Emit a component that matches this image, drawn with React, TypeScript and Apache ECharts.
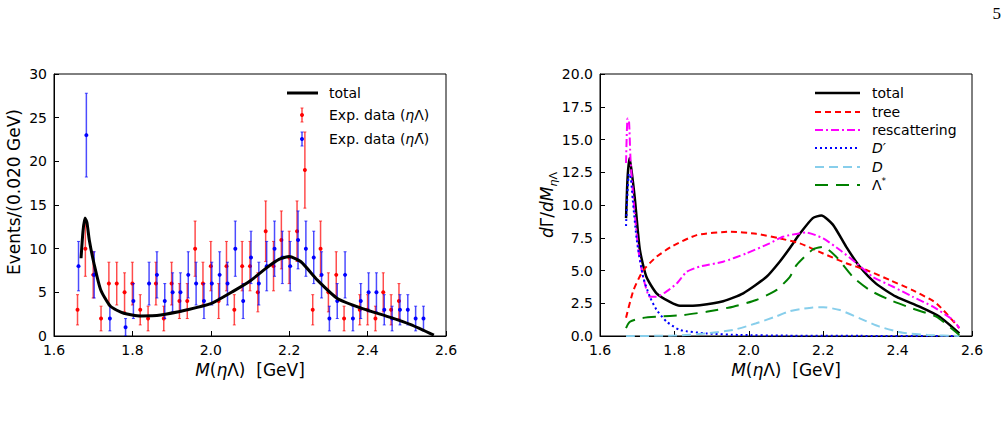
import React, { useEffect, useRef } from 'react';
import * as echarts from 'echarts';

// ---------- Left panel: experimental data (events per 0.020 GeV) ----------
const binCenters = [1.66, 1.68, 1.70, 1.72, 1.74, 1.76, 1.78, 1.80, 1.82, 1.84, 1.86, 1.88, 1.90, 1.92, 1.94, 1.96, 1.98, 2.00, 2.02, 2.04, 2.06, 2.08, 2.10, 2.12, 2.14, 2.16, 2.18, 2.20, 2.22, 2.24, 2.26, 2.28, 2.30, 2.32, 2.34, 2.36, 2.38, 2.40, 2.42, 2.44, 2.46, 2.48, 2.50, 2.52, 2.54];
const redCounts: (number | null)[] = [3, 10, 7, 2, 6, 6, 5, 6, 3, 2, 6, 2, 6, 4, 4, 10, 6, 8, 4, 8, 3, 8, 8, 5, 12, 8, 11, 9, 12, 19, 3, 10, 5, 7, 2, null, 3, 3, 2, 5, 3, 4, null, null, null];
const blueCounts: (number | null)[] = [8, 23, 7, null, 2, null, 1, 4, null, 6, 7, 4, 5, 5, 7, 6, 4, 6, 7, 6, 10, 4, 9, 6, 8, 10, 9, 8, 11, 10, 9, 7, 2, 4, 7, 2, 4, 5, 5, 3, 2, 3, 3, 2, 2];

const leftTotalX = [1.669, 1.674, 1.679, 1.684, 1.690, 1.702, 1.719, 1.744, 1.778, 1.821, 1.872, 1.940, 2.000, 2.060, 2.100, 2.145, 2.175, 2.200, 2.230, 2.272, 2.323, 2.383, 2.460, 2.510, 2.569];
const leftTotalY = [8.9, 12.0, 13.5, 13.0, 11.0, 8.3, 5.3, 3.4, 2.6, 2.3, 2.4, 3.0, 3.7, 5.2, 6.3, 7.9, 8.8, 9.1, 8.5, 6.4, 4.3, 3.2, 2.1, 1.3, 0.1];

// ---------- Right panel: dΓ/dM components ----------
const totalX = [1.670, 1.674, 1.679, 1.684, 1.694, 1.707, 1.725, 1.752, 1.788, 1.815, 1.825, 1.868, 1.931, 1.985, 2.047, 2.083, 2.110, 2.137, 2.172, 2.195, 2.226, 2.262, 2.298, 2.342, 2.396, 2.459, 2.513, 2.566];
const totalY = [9.0, 12.0, 13.56, 12.8, 10.4, 6.6, 4.5, 3.26, 2.6, 2.3, 2.3, 2.35, 2.65, 3.26, 4.5, 5.67, 6.7, 7.8, 9.0, 9.2, 8.5, 6.8, 5.3, 4.0, 3.0, 2.24, 1.47, 0.2];

const treeX = [1.670, 1.690, 1.716, 1.752, 1.797, 1.860, 1.949, 2.020, 2.083, 2.137, 2.200, 2.262, 2.316, 2.379, 2.440, 2.504, 2.566];
const treeY = [1.4, 3.5, 5.0, 6.05, 6.9, 7.7, 7.96, 7.8, 7.45, 7.07, 6.3, 5.55, 5.04, 4.27, 3.5, 2.5, 0.6];

const rescX = [1.670, 1.674, 1.678, 1.682, 1.690, 1.703, 1.716, 1.734, 1.752, 1.779, 1.806, 1.833, 1.868, 1.931, 1.993, 2.056, 2.092, 2.155, 2.200, 2.245, 2.290, 2.334, 2.388, 2.440, 2.495, 2.549, 2.566];
const rescY = [13.2, 16.6, 16.4, 13.5, 10.4, 6.6, 4.5, 3.0, 3.0, 3.4, 4.0, 4.9, 5.3, 5.67, 6.3, 7.07, 7.58, 7.9, 7.45, 6.56, 5.55, 4.5, 3.76, 3.0, 2.24, 1.22, 0.6];

const dPrimeX = [1.670, 1.674, 1.678, 1.683, 1.688, 1.699, 1.716, 1.734, 1.752, 1.779, 1.815, 1.886, 1.976, 2.100, 2.300, 2.566];
const dPrimeY = [8.4, 11.0, 12.4, 12.0, 10.4, 7.3, 4.5, 3.0, 2.0, 1.1, 0.46, 0.2, 0.08, 0.03, 0.01, 0.0];

const dX = [1.670, 1.800, 1.886, 1.958, 2.020, 2.074, 2.110, 2.137, 2.172, 2.200, 2.245, 2.298, 2.352, 2.414, 2.480, 2.566];
const dY = [0.0, 0.03, 0.2, 0.46, 0.97, 1.5, 1.9, 2.05, 2.18, 2.2, 1.98, 1.35, 0.71, 0.25, 0.08, 0.0];

const lamX = [1.670, 1.675, 1.681, 1.707, 1.752, 1.824, 1.886, 1.958, 2.020, 2.074, 2.110, 2.128, 2.172, 2.200, 2.235, 2.280, 2.325, 2.379, 2.440, 2.504, 2.566];
const lamY = [0.6, 0.9, 1.1, 1.35, 1.47, 1.6, 1.85, 2.24, 2.75, 3.5, 4.5, 5.4, 6.6, 6.8, 6.05, 4.5, 3.5, 2.75, 2.1, 1.47, 0.08];

const xTicks = { min: 1.6, max: 2.6, interval: 0.2 };
const leftYTicks = { min: 0, max: 30, interval: 5 };
const rightYTicks = { min: 0, max: 20, interval: 2.5 };

const FONT = 'DejaVu Sans';

function errData(counts: (number | null)[]) {
  const out: number[][] = [];
  binCenters.forEach((x, i) => {
    const v = counts[i];
    if (v == null) return;
    const e = Math.sqrt(v);
    out.push([x, v, v - e, v + e]);
  });
  return out;
}

function makeErrRender(color: string, dx: number) {
  return (_params: any, api: any) => {
    const x = api.value(0), y = api.value(1), lo = api.value(2), hi = api.value(3);
    const p = api.coord([x, y]);
    const a = api.coord([x, lo]);
    const b = api.coord([x, hi]);
    const cx = p[0] + dx;
    return {
      type: 'group',
      children: [
        { type: 'line', shape: { x1: cx, y1: a[1], x2: cx, y2: b[1] }, style: { stroke: color, lineWidth: 1.5, opacity: 0.7 } },
        { type: 'line', shape: { x1: cx - 1.5, y1: a[1], x2: cx + 1.5, y2: a[1] }, style: { stroke: color, lineWidth: 1, opacity: 0.7 } },
        { type: 'line', shape: { x1: cx - 1.5, y1: b[1], x2: cx + 1.5, y2: b[1] }, style: { stroke: color, lineWidth: 1, opacity: 0.7 } },
        { type: 'circle', shape: { cx, cy: p[1], r: 2 }, style: { fill: color } },
      ],
    };
  };
}

function curve(xs: number[], ys: number[], color: string, width: number, dash: any, idx: number, z: number) {
  return {
    type: 'line',
    xAxisIndex: idx,
    yAxisIndex: idx,
    data: xs.map((x, i) => [x, ys[i]]),
    symbol: 'none',
    showSymbol: false,
    smooth: 0.2,
    silent: true,
    z,
    lineStyle: { color, width, type: dash, cap: 'butt' },
  };
}

const axisBase = {
  type: 'value' as const,
  axisLine: { show: true, onZero: false, lineStyle: { color: '#000', width: 1 } },
  axisTick: { show: true, inside: true, length: 5, lineStyle: { color: '#000', width: 1 } },
  splitLine: { show: false },
};

const richTitle = {
  n: { fontFamily: FONT, fontSize: 17, color: '#000', lineHeight: 24 },
  i: { fontFamily: FONT, fontSize: 17, fontStyle: 'italic', color: '#000', lineHeight: 24 },
  s: { fontFamily: FONT, fontSize: 11, fontStyle: 'italic', color: '#000', lineHeight: 11, verticalAlign: 'bottom' },
  sn: { fontFamily: FONT, fontSize: 11, color: '#000', lineHeight: 11, verticalAlign: 'bottom' },
};

const legendRich = {
  n: { fontFamily: FONT, fontSize: 14, color: '#000', lineHeight: 18 },
  i: { fontFamily: FONT, fontSize: 14, fontStyle: 'italic', color: '#000', lineHeight: 18 },
  sup: { fontFamily: FONT, fontSize: 9, color: '#000', lineHeight: 9, verticalAlign: 'top' },
};

function legendErr(x: number, y: number, color: string) {
  return [
    { type: 'line', shape: { x1: x, y1: y - 7, x2: x, y2: y + 7 }, style: { stroke: color, lineWidth: 1.5, opacity: 0.7 } },
    { type: 'line', shape: { x1: x - 1.5, y1: y - 7, x2: x + 1.5, y2: y - 7 }, style: { stroke: color, lineWidth: 1, opacity: 0.7 } },
    { type: 'line', shape: { x1: x - 1.5, y1: y + 7, x2: x + 1.5, y2: y + 7 }, style: { stroke: color, lineWidth: 1, opacity: 0.7 } },
    { type: 'circle', shape: { cx: x, cy: y, r: 2 }, style: { fill: color } },
  ];
}

function legText(x: number, y: number, text: string) {
  return { type: 'text', x, y, style: { text, rich: legendRich, verticalAlign: 'middle', align: 'left' } };
}

function legLine(y: number, color: string, width: number, dash: number[] | null) {
  return {
    type: 'line',
    shape: { x1: 815, y1: y, x2: 860, y2: y },
    style: { stroke: color, lineWidth: width, lineDash: dash || undefined },
  };
}

const option: any = {
  animation: false,
  textStyle: { fontFamily: FONT },
  grid: [
    { left: 54, top: 74, width: 392, height: 262, show: true, borderColor: '#000', borderWidth: 1, backgroundColor: 'transparent' },
    { left: 600, top: 74, width: 372, height: 262, show: true, borderColor: '#000', borderWidth: 1, backgroundColor: 'transparent' },
  ],
  xAxis: [
    { ...axisBase, gridIndex: 0, ...xTicks, axisLabel: { color: '#000', fontSize: 14, fontFamily: FONT, margin: 7, formatter: (v: number) => v.toFixed(1) } },
    { ...axisBase, gridIndex: 1, ...xTicks, axisLabel: { color: '#000', fontSize: 14, fontFamily: FONT, margin: 7, formatter: (v: number) => v.toFixed(1) } },
  ],
  yAxis: [
    { ...axisBase, gridIndex: 0, ...leftYTicks, axisLabel: { color: '#000', fontSize: 14, fontFamily: FONT, margin: 7 } },
    { ...axisBase, gridIndex: 1, ...rightYTicks, axisLabel: { color: '#000', fontSize: 14, fontFamily: FONT, margin: 7, formatter: (v: number) => v.toFixed(1) } },
  ],
  series: [
    { type: 'custom', xAxisIndex: 0, yAxisIndex: 0, data: errData(redCounts), renderItem: makeErrRender('#ff0000', 0), encode: { x: 0, y: 1 }, z: 2, silent: true, clip: true },
    { type: 'custom', xAxisIndex: 0, yAxisIndex: 0, data: errData(blueCounts), renderItem: makeErrRender('#0000ff', 1), encode: { x: 0, y: 1 }, z: 3, silent: true, clip: true },
    curve(leftTotalX, leftTotalY, '#000', 3, 'solid', 0, 5),
    curve(totalX, totalY, '#000', 2.5, 'solid', 1, 5),
    curve(treeX, treeY, '#ff0000', 2, [6, 4], 1, 6),
    curve(rescX, rescY, '#ff00ff', 2, [8, 3, 2, 3], 1, 7),
    curve(dPrimeX, dPrimeY, '#0000ff', 2, [2, 3], 1, 8),
    curve(dX, dY, '#87ceeb', 2, [9, 5], 1, 9),
    curve(lamX, lamY, '#008000', 2, [13, 8], 1, 10),
  ],
  graphic: [
    // page number
    { type: 'text', x: 1001, y: 13, style: { text: '5', fontFamily: 'Liberation Serif', fontSize: 17, fill: '#000', align: 'right', verticalAlign: 'middle' } },
    // axis titles
    { type: 'text', x: 250, y: 370, style: { text: '{i|M}{n|(}{i|η}{n|Λ)  [GeV]}', rich: richTitle, align: 'center', verticalAlign: 'middle' } },
    { type: 'text', x: 786, y: 370, style: { text: '{i|M}{n|(}{i|η}{n|Λ)  [GeV]}', rich: richTitle, align: 'center', verticalAlign: 'middle' } },
    { type: 'text', x: 14, y: 192, rotation: Math.PI / 2, style: { text: '{n|Events/(0.020 GeV)}', rich: richTitle, align: 'center', verticalAlign: 'middle' } },
    { type: 'text', x: 547, y: 205, rotation: Math.PI / 2, style: { text: '{i|d}{n|Γ/}{i|dM}{s|η}{sn|Λ}', rich: richTitle, align: 'center', verticalAlign: 'middle' } },
    // left legend
    { type: 'line', shape: { x1: 287, y1: 93, x2: 318, y2: 93 }, style: { stroke: '#000', lineWidth: 3 } },
    legText(329, 93, '{n|total}'),
    ...legendErr(302, 115, '#ff0000'),
    legText(329, 115, '{n|Exp. data (}{i|η}{n|Λ)}'),
    ...legendErr(302, 139, '#0000ff'),
    legText(329, 139, '{n|Exp. data (}{i|η}{n|Λ̄)}'),
    // right legend
    legLine(93, '#000', 2.5, null),
    legText(872, 93, '{n|total}'),
    legLine(112, '#ff0000', 2, [6, 4]),
    legText(872, 112, '{n|tree}'),
    legLine(130, '#ff00ff', 2, [8, 3, 2, 3]),
    legText(872, 130, '{n|rescattering}'),
    legLine(148, '#0000ff', 2, [2, 3]),
    legText(872, 148, "{i|D′}"),
    legLine(167, '#87ceeb', 2, [9, 5]),
    legText(872, 167, '{i|D}'),
    legLine(185, '#008000', 2, [13, 8]),
    legText(872, 185, '{n|Λ}{sup|*}'),
  ],
};

export default function App() {
  const ref = useRef<HTMLDivElement>(null);
  useEffect(() => {
    document.body.style.margin = '0';
    const chart = echarts.init(ref.current!, null, { renderer: 'svg' });
    chart.setOption(option);
    return () => chart.dispose();
  }, []);
  return <div ref={ref} style={{ width: 1008, height: 427 }} />;
}
